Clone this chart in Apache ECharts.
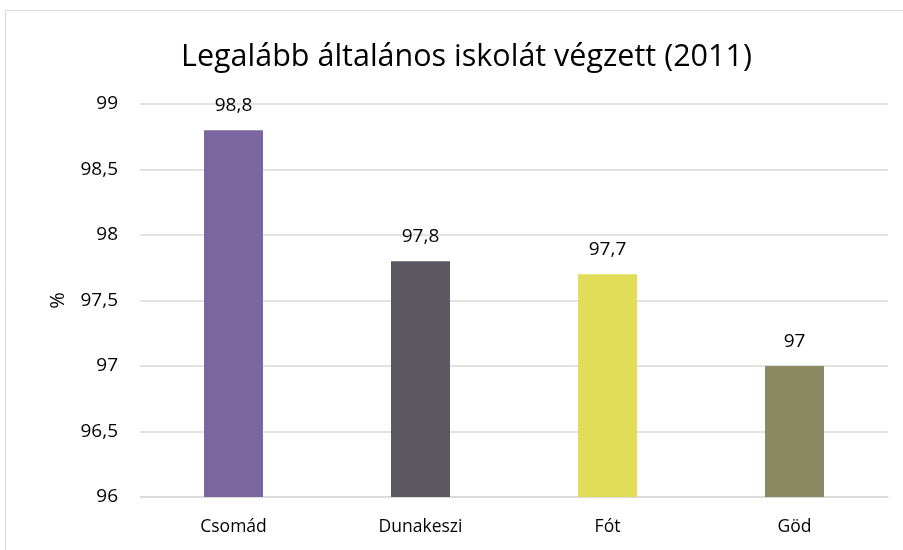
<!DOCTYPE html>
<html><head><meta charset="utf-8">
<script src="https://cdn.jsdelivr.net/npm/echarts@6/dist/echarts.min.js"></script>
<style>html,body{margin:0;padding:0;background:#fff}#c{width:903px;height:550px}</style>
</head><body><div id="c"></div>
<script>
const categories = ['Csomád', 'Dunakeszi', 'Fót', 'Göd'];
const values = [98.8, 97.8, 97.7, 97];
const barColors = ['#7B67A0', '#5B5862', '#E3DC58', '#8C8A63'];
const titleText = 'Legalább általános iskolát végzett (2011)';
const yName = '%';

const fmt = v => String(v).replace('.', ',');
const chart = echarts.init(document.getElementById('c'));
chart.setOption({
  animation: false,
  backgroundColor: '#fff',
  graphic: [{type: 'rect', shape: {x: 5.5, y: 10.5, width: 1000, height: 700}, style: {fill: 'none', stroke: '#D9D9D9', lineWidth: 1}, z: -1}],
  title: {text: titleText, left: 176, top: 37, textStyle: {fontFamily: 'Open Sans', fontWeight: 'normal', fontSize: 30.5, color: '#000'}},
  grid: {left: 140, right: 15, top: 104, bottom: 53},
  xAxis: {type: 'category', data: categories, axisTick: {show: false},
    axisLine: {lineStyle: {color: '#D9D9D9', width: 1.5}},
    axisLabel: {fontFamily: 'Open Sans', fontSize: 17.5, color: '#000', margin: 21}},
  yAxis: {type: 'value', min: 96, max: 99, interval: 0.5, name: yName, nameLocation: 'middle', nameGap: 72,
    nameTextStyle: {fontFamily: 'Open Sans', fontSize: 20, color: '#000'},
    axisLine: {show: false}, axisTick: {show: false},
    splitLine: {lineStyle: {color: '#D9D9D9', width: 1.5}},
    axisLabel: {fontFamily: 'Open Sans', fontSize: 19, color: '#000', margin: 22, formatter: v => fmt(v)}},
  series: [{type: 'bar', barWidth: 59,
    data: values.map((v, i) => ({value: v, itemStyle: {color: barColors[i]}})),
    label: {show: true, position: 'top', distance: 15, fontFamily: 'Open Sans', fontSize: 19, color: '#000', formatter: p => fmt(p.value)}}]
});
</script></body></html>
